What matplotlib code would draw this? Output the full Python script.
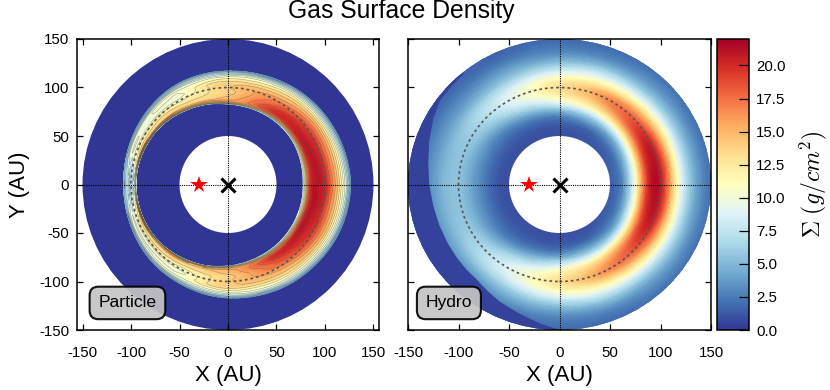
import numpy as np
import matplotlib
matplotlib.use('Agg')
import matplotlib.pyplot as plt
from matplotlib.patches import Circle
from matplotlib.cm import ScalarMappable
from matplotlib.colors import Normalize
from matplotlib.tri import Triangulation, UniformTriRefiner, CubicTriInterpolator

plt.rcParams['font.family'] = ['Liberation Sans', 'DejaVu Sans']
plt.rcParams['mathtext.fontset'] = 'cm'
plt.rcParams['axes.unicode_minus'] = False

# values
ticks = [-150, -100, -50, 0, 50, 100, 150]
cbar_ticks = [0, 2.5, 5, 7.5, 10, 12.5, 15, 17.5, 20]
vmax = 22

theta_step = 15
hole_radius = 50
disk_radius = 150
ref_radius = 100
star_x = -30

# hydro panel: Sigma at these radii, for azimuth 0..180 every 15 deg (lower half mirrors it)
hydro_r = [44, 55, 62, 70, 78, 86, 94, 102, 110, 118, 126, 134, 142, 156]
hydro_sigma = [
    [1.0, 1.8, 3.0, 7.0, 13.0, 19.0, 21.5, 20.0, 15.5, 10.5, 6.8, 4.5, 3.0, 1.5],
    [1.0, 1.8, 3.0, 6.5, 12.5, 18.5, 21.0, 20.0, 15.5, 10.5, 6.8, 4.5, 3.0, 1.5],
    [1.0, 1.6, 2.6, 5.5, 11.0, 17.0, 20.0, 19.0, 15.0, 10.5, 6.8, 4.5, 3.0, 1.5],
    [1.0, 1.4, 2.2, 4.5, 9.5, 15.0, 18.0, 17.5, 14.0, 10.0, 6.5, 4.3, 3.0, 1.5],
    [0.8, 1.2, 1.8, 4.0, 8.0, 13.0, 16.0, 16.5, 13.0, 9.5, 6.3, 4.0, 2.7, 1.5],
    [0.8, 1.1, 1.6, 3.5, 7.0, 11.5, 14.0, 14.5, 12.0, 9.0, 6.0, 3.8, 2.5, 1.5],
    [0.8, 1.0, 1.4, 2.8, 6.0, 10.0, 12.5, 13.0, 11.0, 8.0, 5.3, 3.4, 2.4, 1.5],
    [0.8, 1.0, 1.3, 2.5, 5.0, 8.0, 10.5, 11.0, 9.5, 7.0, 4.8, 3.2, 2.2, 1.4],
    [0.8, 1.0, 1.3, 2.2, 4.0, 6.5, 8.5, 9.0, 8.0, 6.0, 4.3, 3.0, 2.0, 1.4],
    [0.8, 1.0, 1.3, 2.0, 3.2, 5.0, 6.5, 7.2, 6.8, 5.3, 3.8, 2.8, 2.0, 1.4],
    [0.8, 1.0, 1.3, 2.0, 3.0, 4.2, 5.5, 6.0, 5.8, 4.8, 3.7, 2.8, 2.0, 1.2],
    [0.8, 1.0, 1.3, 2.0, 3.0, 4.0, 5.0, 5.5, 5.3, 4.6, 3.6, 2.8, 2.0, 1.2],
    [0.8, 1.0, 1.3, 2.0, 3.0, 4.0, 5.0, 5.5, 5.3, 4.6, 3.6, 2.8, 2.0, 1.2],
]
# sharp edge of the dark crescent in the hydro panel
crescent_x = [-95, -108, -118, -125, -129, -130, -129, -125, -119, -111, -102, -92, -82, -71, -59, -40, -20, 0,
              0, -165, -165, -95]
crescent_y = [114, 100, 87, 68, 45, 22, 0, -22, -42, -60, -75, -88, -98, -110, -121, -133, -143, -150,
              -165, -165, 165, 165]

# particle panel: annulus edges for azimuth 0..345, Sigma across the annulus
ring_inner = [77.5, 78.5, 80, 81, 81.5, 82, 83, 85.5, 88, 91, 93, 94.5,
              95, 94.5, 93.5, 91.5, 89, 86.5, 84, 82, 80.5, 79.5, 78.5, 78]
ring_outer = [126.5, 125, 123.5, 122, 120, 118, 117, 116.5, 115.5, 113, 110.5, 108.5,
              107.5, 108, 109.5, 111.5, 113, 115, 117, 118.5, 120.5, 122, 124, 125.5]
ring_frac = [0, 0.06, 0.15, 0.3, 0.45, 0.6, 0.75, 0.87, 0.95, 1]
ring_sigma = [
    [9, 14, 20, 21, 20.5, 17.5, 13.5, 9.5, 6, 3.5],
    [9, 14, 20, 21, 20, 17, 13.5, 9.5, 6, 3.5],
    [9, 15, 20.5, 20.5, 19.5, 17, 13.5, 9.5, 6, 3.5],
    [8, 15, 20, 20, 18.5, 16, 13, 9.5, 6, 3.5],
    [7, 15, 19.5, 18.5, 17, 15, 12.5, 9.5, 6, 3.5],
    [6, 15, 17, 16, 15.5, 14.5, 12, 9.5, 6, 3.5],
    [5, 15, 15, 14, 14, 14, 12, 9, 6, 3.5],
    [5, 15, 14, 13, 12.5, 12.5, 11, 8.5, 6, 3.5],
    [5, 15, 14, 12.5, 11, 10, 10.5, 8.5, 5.5, 3.5],
    [5, 16, 14, 13, 11.5, 10, 10.5, 8.5, 5.5, 3.5],
    [5, 17, 14, 12.5, 11, 10, 10, 8, 5.5, 3.5],
    [6, 18, 12, 10.5, 10, 9.5, 9, 7.5, 5.5, 4],
    [7, 8, 8, 7.5, 7, 6.5, 6.5, 6, 5.5, 4.5],
]

W, H = 830, 390
cmap = plt.get_cmap('RdYlBu_r')
norm = Normalize(0, vmax)


def px_axes(x0, y0, x1, y1):
    return fig.add_axes([x0 / W, 1 - y1 / H, (x1 - x0) / W, (y1 - y0) / H])


def mirror(rows):
    rows = np.array(rows, dtype=float)
    return np.vstack([rows, rows[-2::-1]])


def refine_polar(radius, sigma):
    # the table is refined on its (azimuth, radius) index grid, then put on the sky
    i, j = np.meshgrid(np.arange(radius.shape[0]), np.arange(radius.shape[1]), indexing='ij')
    tri = Triangulation(i.ravel().astype(float), j.ravel().astype(float))
    refiner = UniformTriRefiner(tri)
    fine, zf = refiner.refine_field(sigma.ravel(), CubicTriInterpolator(tri, sigma.ravel()), subdiv=3)
    _, rf = refiner.refine_field(radius.ravel(), CubicTriInterpolator(tri, radius.ravel()), subdiv=3)
    th = np.radians(fine.x * theta_step)
    return Triangulation(rf * np.cos(th), rf * np.sin(th), fine.triangles), np.clip(zf, 0, None)


def overlay(ax, label, box_x):
    ax.add_patch(Circle((0, 0), hole_radius, fc='white', ec='none', zorder=4))
    ax.add_patch(Circle((0, 0), ref_radius, fc='none', ec='#555555', lw=1.2,
                        ls=(0, (1.6, 1.8)), zorder=5))
    ax.axhline(0, color='black', lw=0.8, ls=(0, (1, 1)), zorder=5)
    ax.axvline(0, color='black', lw=0.8, ls=(0, (1, 1)), zorder=5)
    ax.plot([star_x], [0], marker='*', ms=13, color='red', mew=0, zorder=6)
    ax.plot([0], [0], marker='x', ms=9.5, color='black', mew=2.2, zorder=6)
    ax.set_xticks(ticks)
    ax.set_yticks(ticks)
    ax.tick_params(direction='in', top=True, right=True, length=4, width=0.9, labelsize=10.8)
    ax.tick_params(axis='x', pad=11.5)
    ax.tick_params(axis='y', pad=5.5)
    ax.set_xlabel('X (AU)', fontsize=16, labelpad=3.5)
    for s in ax.spines.values():
        s.set_linewidth(1.1)
        s.set_zorder(7)
    ax.text(box_x, 0.093, label, transform=ax.transAxes, fontsize=12.6, ha='center', va='center',
            zorder=8, bbox=dict(boxstyle='round,pad=0.5,rounding_size=0.5', fc='#c4c4c4',
                                ec='black', lw=1.5, alpha=0.92))


fig = plt.figure(figsize=(W / 100, H / 100), dpi=100)
n_theta = 360 // theta_step + 1

# particle panel
ax1 = px_axes(77, 39, 379, 330)
ax1.set_xlim(-155.7, 155.7)
ax1.set_ylim(-150, 150)
ax1.add_patch(Circle((0, 0), disk_radius, fc=cmap(0.0), ec='none', zorder=1))

r_in = np.append(ring_inner, ring_inner[0])
r_out = np.append(ring_outer, ring_outer[0])
frac = np.array(ring_frac)
rr = r_in[:, None] + frac[None, :] * (r_out - r_in)[:, None]
tri1, z1 = refine_polar(rr, mirror(ring_sigma))
ax1.tripcolor(tri1, z1, shading='gouraud', cmap=cmap, norm=norm, zorder=2)
ax1.tricontour(tri1, z1, levels=np.arange(3.9, 22, 1.3), colors='#5f5a40', linewidths=0.35,
               alpha=0.6, zorder=3)
overlay(ax1, 'Particle', 0.167)
ax1.set_ylabel('Y (AU)', fontsize=16)
ax1.yaxis.set_label_coords(-0.155, 0.5)

# hydro panel
ax2 = px_axes(408, 39, 711, 330)
ax2.set_xlim(-150, 150)
ax2.set_ylim(-150, 150)
hr = np.tile(np.array(hydro_r, dtype=float), (n_theta, 1))
tri2, z2 = refine_polar(hr, mirror(hydro_sigma))
mesh = ax2.tripcolor(tri2, z2, shading='gouraud', cmap=cmap, norm=norm, zorder=2)
mesh.set_clip_path(Circle((0, 0), disk_radius, transform=ax2.transData))
dark = ax2.fill(crescent_x, crescent_y, color=cmap(norm(0.5)), lw=0, zorder=3)[0]
dark.set_clip_path(Circle((0, 0), disk_radius, transform=ax2.transData))
overlay(ax2, 'Hydro', 0.135)
ax2.set_yticklabels([])

# colorbar
cax = px_axes(717, 39, 749, 330)
cb = fig.colorbar(ScalarMappable(norm=norm, cmap=cmap), cax=cax, ticks=cbar_ticks, format='%.1f')
cb.ax.tick_params(direction='in', length=7, width=0.9, labelsize=10.8, pad=5)
cb.outline.set_linewidth(1.1)
cb.set_label(r'$\Sigma\ (g/cm^2)$', fontsize=17, labelpad=9)

fig.text(401 / W, 1 - 11 / H, 'Gas Surface Density', fontsize=17.8, ha='center', va='center')

fig.savefig('out.png', dpi=100)
